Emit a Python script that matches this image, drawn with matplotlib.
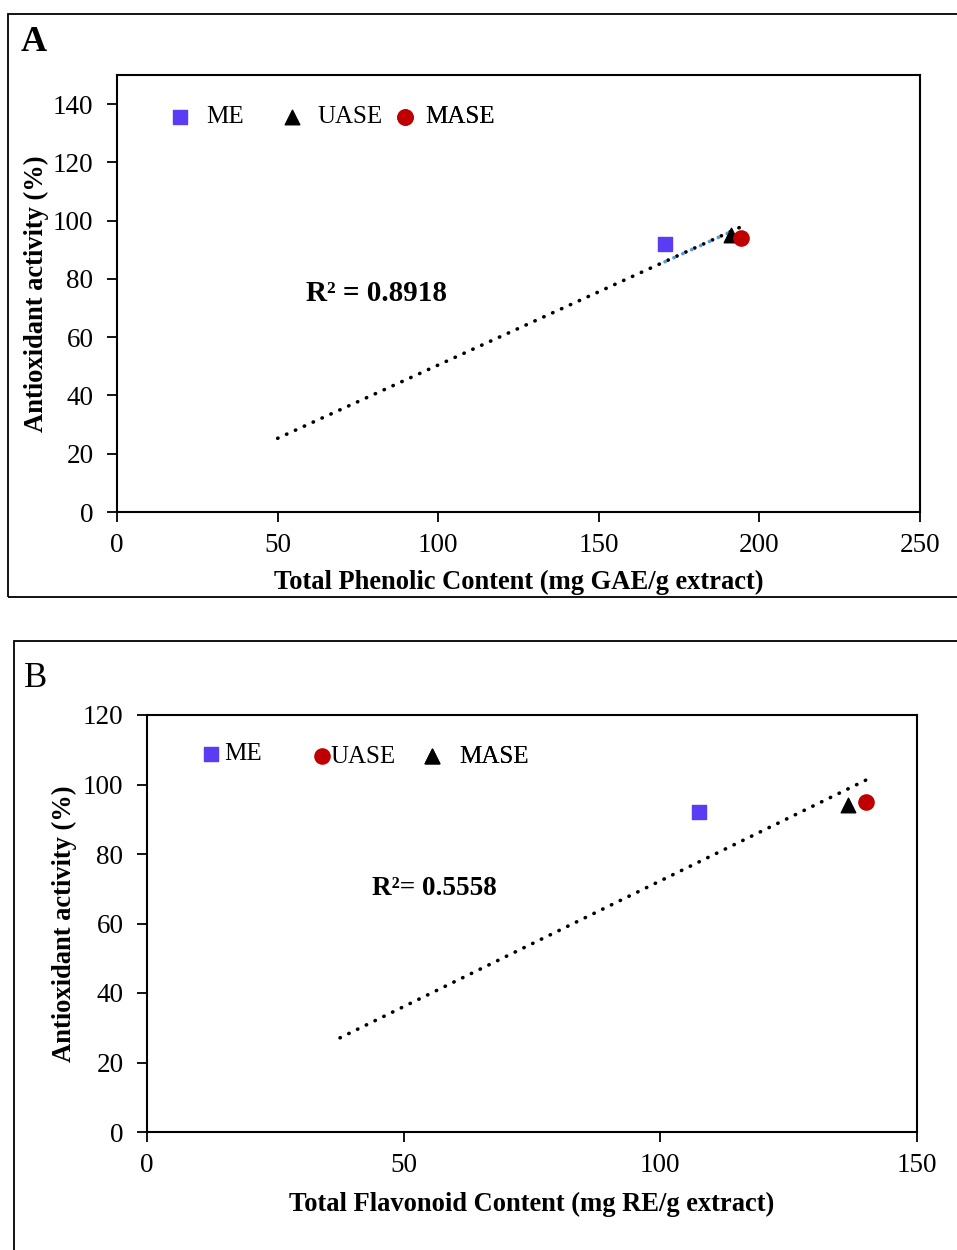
import matplotlib.pyplot as plt
from matplotlib.patches import Rectangle
from matplotlib.lines import Line2D

plt.rcParams['font.family'] = ['Liberation Serif', 'DejaVu Serif']

# panel A: total phenolic content vs antioxidant activity
a_me = (170.6, 92.1)
a_uase = (191.2, 95.2)
a_mase = (194.3, 94.2)
a_trend_x = [50, 194.3]
a_trend_y = [25.3, 97.9]
a_trend2_x = [170.6, 192.5]
a_trend2_y = [85.9, 96.9]
a_r2 = 'R² = 0.8918'

# panel B: total flavonoid content vs antioxidant activity
b_me = (107.5, 92.1)
b_mase = (136.6, 94.1)
b_uase = (140.1, 95.0)
b_trend_x = [37.6, 140.1]
b_trend_y = [27.1, 101.3]
b_r2 = 'R²= 0.5558'

blue = '#5A3CF5'
red = '#C00000'
fs = 19.5   # tick labels
lfs = 19.1  # axis labels

fig = plt.figure(figsize=(9.57, 12.5), dpi=100)

# outer frames
fig.patches.append(Rectangle((0.0084, 0.5224), 1.0, 0.4664, transform=fig.transFigure,
                             fill=False, ec='black', lw=1.3))
fig.patches.append(Rectangle((0.0146, -0.05), 1.0, 0.5372, transform=fig.transFigure,
                             fill=False, ec='black', lw=1.3))
fig.text(0.022, 0.966, 'A', fontsize=26, fontweight='bold', va='center')
fig.text(0.025, 0.457, 'B', fontsize=25, va='center')

dot = dict(color='black', lw=2.6, linestyle=(0, (0.1, 2.6)), dash_capstyle='round')


def style(ax):
    for s in ax.spines.values():
        s.set_linewidth(1.5)
    ax.tick_params(direction='out', length=7, width=1.3, labelsize=fs)
    ax.tick_params(axis='x', pad=8)
    ax.tick_params(axis='y', pad=10)


def entry(ax, handle, label, x, y, pad):
    # one legend per entry so the irregular spacing of the original can be kept
    leg = ax.legend([handle], [label], loc='center left', bbox_to_anchor=(x, y), frameon=False,
                    fontsize=18, handlelength=0.64, handletextpad=pad, borderpad=0,
                    borderaxespad=0, scatterpoints=1)
    ax.add_artist(leg)


axA = fig.add_axes([0.1223, 0.5904, 0.8391, 0.3496])
axA.plot(a_trend_x, a_trend_y, **dot, zorder=2)
axA.plot(a_trend2_x, a_trend2_y, color='#5B9BD5', lw=2.6, linestyle=(0, (0.1, 2.6)),
         dash_capstyle='round', zorder=2)
hA1 = axA.scatter(*a_me, marker='s', s=95, color=blue, zorder=3)
hA2 = axA.scatter(*a_uase, marker='^', s=110, color='black', zorder=3)
hA3 = axA.scatter(*a_mase, marker='o', s=120, color=red, zorder=4)
axA.set_xlim(0, 250)
axA.set_ylim(0, 150)
axA.set_xticks(range(0, 251, 50))
axA.set_yticks(range(0, 141, 20))
axA.set_xlabel('Total Phenolic Content (mg GAE/g extract)', fontsize=lfs, fontweight='bold', labelpad=9)
axA.set_ylabel('Antioxidant activity (%)', fontsize=lfs, fontweight='bold', labelpad=2.4)
axA.text(0.235, 0.50, a_r2, transform=axA.transAxes, fontsize=21, fontweight='bold', va='center')
entry(axA, hA1, 'ME', 0.0685, 0.904, 0.72)
entry(axA, hA2, 'UASE', 0.208, 0.904, 0.7)
entry(axA, hA3, 'MASE', 0.3487, 0.904, 0.5)
style(axA)

axB = fig.add_axes([0.1536, 0.0944, 0.8046, 0.3336])
axB.plot(b_trend_x, b_trend_y, **dot, zorder=2)
hB1 = axB.scatter(*b_me, marker='s', s=95, color=blue, zorder=3)
hB2 = axB.scatter(*b_uase, marker='o', s=120, color=red, zorder=4)
hB3 = axB.scatter(*b_mase, marker='^', s=110, color='black', zorder=3)
axB.set_xlim(0, 150)
axB.set_ylim(0, 120)
axB.set_xticks(range(0, 151, 50))
axB.set_yticks(range(0, 121, 20))
axB.set_xlabel('Total Flavonoid Content (mg RE/g extract)', fontsize=lfs, fontweight='bold', labelpad=10)
axB.set_ylabel('Antioxidant activity (%)', fontsize=lfs, fontweight='bold', labelpad=4)
axB.text(0.292, 0.585, b_r2, transform=axB.transAxes, fontsize=19.5, fontweight='bold', va='center')
entry(axB, hB1, 'ME', 0.0727, 0.906, 0.2)
entry(axB, hB2, 'UASE', 0.2169, 0.901, 0.0)
entry(axB, hB3, 'MASE', 0.3597, 0.901, 0.78)
style(axB)

fig.savefig('out.png', dpi=100)
